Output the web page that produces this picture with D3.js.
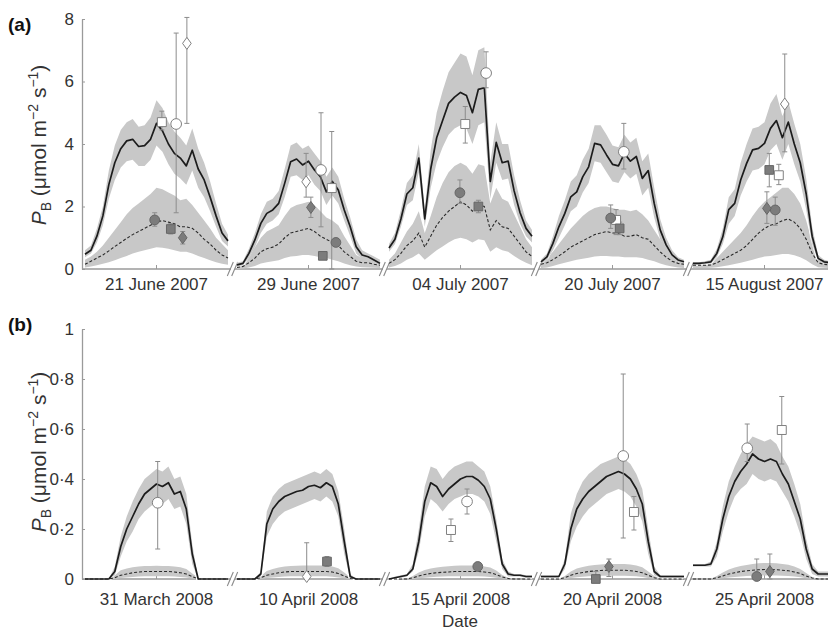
<!DOCTYPE html>
<html>
<head>
<meta charset="utf-8">
<script src="https://cdn.jsdelivr.net/npm/d3@7"></script>
<style>
  body { margin: 0; background: #fff; }
  svg { display: block; }
</style>
</head>
<body>
<svg id="chart" width="828" height="630"></svg>
<script>
// ---------------------------------------------------------------
// Modelled P_B (hourly, 0–24 h) for each sampled day, with the
// uncertainty envelopes, and measured values (value, low, high).
// ---------------------------------------------------------------

// Panel (a): summer 2007
const datesA = ["21 June 2007", "29 June 2007", "04 July 2007", "20 July 2007", "15 August 2007"];
const ticksA = [0, 2, 4, 6, 8];

const solidA = [
  [0.47,0.6,1.05,1.7,2.7,3.4,3.85,4.1,4.15,3.92,3.95,4.15,4.66,4.42,4.0,3.7,3.55,3.3,3.8,3.2,2.85,2.3,1.7,1.15,0.9],
  [0.13,0.18,0.5,0.93,1.46,1.78,1.89,2.1,2.74,3.43,3.52,3.33,3.45,3.17,2.95,2.47,2.8,2.53,1.89,1.35,0.71,0.45,0.39,0.29,0.18],
  [0.67,0.95,1.6,2.4,2.6,3.55,1.6,3.2,4.2,4.75,5.3,5.5,5.65,5.55,5.0,5.75,5.8,2.8,4.05,3.4,3.45,2.5,1.8,1.3,1.05],
  [0.23,0.39,0.82,1.35,1.78,2.31,2.47,2.95,3.27,4.02,3.97,3.65,3.35,3.3,3.7,3.45,3.6,2.9,3.15,2.1,1.25,0.77,0.45,0.29,0.23],
  [0.18,0.18,0.2,0.23,0.5,1.03,1.9,2.1,2.85,3.38,3.81,3.86,4.02,4.5,4.75,4.2,4.7,4.0,3.4,2.4,1.05,0.34,0.23,0.2,0.2]
];
const solidHiA = [
  [0.6,0.75,1.3,2.0,3.15,3.95,4.45,4.7,4.8,4.55,4.6,4.85,5.4,5.15,4.7,4.4,4.2,3.95,4.5,3.85,3.4,2.8,2.1,1.45,1.1],
  [0.2,0.25,0.65,1.15,1.75,2.15,2.25,2.5,3.2,3.95,4.05,3.85,3.95,3.7,3.45,2.95,3.25,2.95,2.25,1.65,0.95,0.6,0.5,0.4,0.3],
  [0.8,1.15,1.9,2.75,3.0,4.0,1.9,3.8,5.0,5.7,6.3,6.6,6.9,6.8,6.2,7.0,7.1,3.4,4.7,4.0,4.0,3.0,2.2,1.55,1.25],
  [0.3,0.5,1.05,1.7,2.2,2.8,3.0,3.5,3.85,4.6,4.6,4.3,3.95,3.9,4.3,4.05,4.2,3.45,3.7,2.6,1.6,1.0,0.6,0.38,0.3],
  [0.22,0.22,0.25,0.3,0.65,1.3,2.3,2.55,3.4,4.0,4.5,4.55,4.7,5.3,5.6,4.9,5.35,4.65,4.0,2.9,1.35,0.45,0.3,0.25,0.25]
];
const solidLoA = [
  [0.38,0.5,0.85,1.4,2.25,2.85,3.25,3.45,3.5,3.3,3.3,3.5,3.95,3.75,3.35,3.05,2.9,2.7,3.15,2.6,2.3,1.85,1.35,0.9,0.72],
  [0.08,0.12,0.35,0.7,1.15,1.45,1.55,1.75,2.3,2.95,3.0,2.85,3.0,2.7,2.5,2.05,2.35,2.1,1.55,1.05,0.5,0.32,0.28,0.2,0.1],
  [0.55,0.8,1.35,2.05,2.2,3.1,1.35,2.6,3.4,3.9,4.3,4.5,4.6,4.5,4.0,4.6,4.7,2.25,3.4,2.85,2.9,2.05,1.45,1.05,0.85],
  [0.15,0.3,0.6,1.0,1.4,1.85,2.0,2.45,2.75,3.45,3.4,3.1,2.8,2.75,3.1,2.9,3.05,2.35,2.6,1.65,0.95,0.55,0.32,0.2,0.15],
  [0.14,0.14,0.16,0.18,0.38,0.8,1.45,1.7,2.35,2.8,3.15,3.2,3.35,3.8,4.0,3.5,4.0,3.35,2.8,1.9,0.8,0.25,0.17,0.15,0.15]
];
const dashA = [
  [0.15,0.25,0.35,0.45,0.58,0.72,0.85,0.98,1.1,1.2,1.3,1.4,1.5,1.55,1.5,1.45,1.35,1.35,1.3,1.15,0.95,0.8,0.6,0.45,0.35],
  [0.05,0.08,0.2,0.35,0.55,0.65,0.7,0.8,1.0,1.15,1.2,1.25,1.3,1.2,1.05,0.95,0.85,0.75,0.55,0.4,0.25,0.2,0.2,0.15,0.12],
  [0.18,0.3,0.5,0.75,0.9,1.15,0.7,1.05,1.4,1.65,1.85,2.0,2.15,2.05,1.85,2.05,2.0,1.25,1.55,1.35,1.3,1.05,0.8,0.55,0.4],
  [0.15,0.2,0.3,0.42,0.55,0.7,0.8,0.9,1.0,1.1,1.15,1.2,1.15,1.15,1.05,1.05,1.1,1.0,0.95,0.75,0.55,0.38,0.25,0.18,0.15],
  [0.12,0.12,0.12,0.13,0.2,0.3,0.4,0.5,0.6,0.75,0.95,1.15,1.3,1.4,1.45,1.55,1.6,1.5,1.3,0.95,0.5,0.2,0.15,0.13,0.12]
];
const dashHiA = [
  [0.3,0.4,0.55,0.75,1.0,1.25,1.5,1.75,1.95,2.1,2.25,2.4,2.6,2.55,2.45,2.35,2.2,2.25,2.05,1.8,1.55,1.3,1.0,0.8,0.6],
  [0.1,0.15,0.4,0.7,1.0,1.2,1.3,1.4,1.7,1.95,2.05,2.1,2.15,2.05,1.85,1.65,1.55,1.4,1.05,0.75,0.45,0.35,0.3,0.25,0.2],
  [0.3,0.5,0.85,1.2,1.45,1.85,1.15,1.7,2.3,2.75,3.1,3.3,3.4,3.3,3.05,3.35,3.3,2.1,2.6,2.25,2.15,1.75,1.35,0.95,0.7],
  [0.25,0.35,0.55,0.8,1.05,1.3,1.5,1.7,1.85,1.95,2.0,2.0,1.95,1.9,1.9,1.85,1.9,1.75,1.55,1.25,0.95,0.65,0.42,0.3,0.25],
  [0.2,0.2,0.2,0.22,0.35,0.55,0.75,0.95,1.15,1.4,1.7,1.95,2.15,2.3,2.45,2.6,2.6,2.4,2.1,1.55,0.85,0.35,0.25,0.2,0.2]
];
const dashLoA = [
  [0.05,0.08,0.12,0.17,0.22,0.28,0.35,0.42,0.5,0.55,0.6,0.65,0.7,0.68,0.65,0.6,0.55,0.55,0.5,0.42,0.35,0.28,0.22,0.17,0.14],
  [0.0,0.02,0.05,0.1,0.18,0.22,0.25,0.28,0.35,0.4,0.42,0.45,0.45,0.42,0.38,0.35,0.3,0.25,0.18,0.12,0.08,0.06,0.05,0.04,0.03],
  [0.05,0.1,0.18,0.3,0.38,0.5,0.3,0.45,0.6,0.72,0.85,0.95,1.0,0.95,0.85,0.95,0.92,0.55,0.7,0.6,0.55,0.42,0.3,0.2,0.12],
  [0.03,0.05,0.1,0.15,0.2,0.25,0.3,0.33,0.36,0.4,0.42,0.42,0.4,0.4,0.38,0.38,0.38,0.35,0.3,0.25,0.18,0.12,0.08,0.05,0.03],
  [0.03,0.03,0.03,0.04,0.06,0.09,0.12,0.16,0.2,0.25,0.3,0.35,0.4,0.42,0.45,0.48,0.48,0.44,0.38,0.28,0.15,0.06,0.04,0.03,0.03]
];

// Measurements: [day index, hour, value, low, high]
const openSquaresA  = [[0,12.9,4.7,4.45,5.05],[1,15.9,2.59,0,4.4],[2,12.8,4.64,4.03,5.2],[3,12.6,1.57,1.1,1.9],[4,14.4,3.0,2.7,3.35]];
const openCirclesA  = [[0,15.3,4.64,1.8,7.55],[1,14.1,3.17,1.35,5.0],[2,16.3,6.27,5.8,6.95],[3,13.9,3.75,3.2,4.66]];
const openDiamondsA = [[0,17.1,7.22,4.66,8.05],[1,11.6,2.79,2.3,3.7],[4,15.4,5.28,3.75,6.88]];
const grayCirclesA  = [[0,11.7,1.57,1.37,1.8],[1,16.6,0.85,0.75,0.95],[2,11.9,2.44,2.1,2.85],[3,11.7,1.63,1.3,2.05],[4,13.8,1.89,1.4,2.3]];
const graySquaresA  = [[0,14.4,1.28,1.12,1.45],[1,14.4,0.42,0.42,0.42],[2,15.0,2.0,1.8,2.2],[3,13.2,1.3,1.1,1.5],[4,12.8,3.17,2.63,3.7]];
const grayDiamondsA = [[0,16.4,1.0,0.8,1.2],[1,12.4,1.97,1.65,2.3],[4,12.4,1.94,1.46,2.47]];

// Panel (b): spring 2008
const datesB = ["31 March 2008", "10 April 2008", "15 April 2008", "20 April 2008", "25 April 2008"];
const ticksB = [0, 0.2, 0.4, 0.6, 0.8, 1];

const solidB = [
  [0,0,0,0,0,0.03,0.13,0.2,0.25,0.3,0.34,0.36,0.38,0.37,0.385,0.34,0.35,0.28,0.1,0,0,0,0,0,0],
  [0,0,0,0,0.02,0.22,0.28,0.31,0.33,0.34,0.35,0.355,0.37,0.375,0.365,0.385,0.37,0.3,0.15,0.01,0,0,0,0,0],
  [0,0.005,0.01,0.015,0.04,0.15,0.31,0.385,0.37,0.33,0.36,0.38,0.4,0.41,0.41,0.395,0.37,0.32,0.2,0.06,0.02,0.015,0.015,0.01,0.01],
  [0.01,0.01,0.01,0.01,0.06,0.2,0.28,0.32,0.35,0.37,0.39,0.41,0.42,0.43,0.42,0.4,0.36,0.3,0.15,0.03,0.01,0.01,0.01,0.01,0.01],
  [0.055,0.055,0.055,0.06,0.12,0.24,0.33,0.39,0.43,0.46,0.5,0.48,0.47,0.48,0.47,0.42,0.38,0.31,0.24,0.12,0.04,0.02,0.02,0.02,0.02]
];
const solidHiB = [
  [0,0,0,0,0,0.05,0.17,0.25,0.31,0.36,0.4,0.42,0.44,0.43,0.45,0.4,0.41,0.34,0.14,0,0,0,0,0,0],
  [0,0,0,0,0.03,0.27,0.33,0.36,0.38,0.39,0.4,0.41,0.42,0.43,0.42,0.44,0.42,0.35,0.2,0.02,0,0,0,0,0],
  [0,0.01,0.015,0.02,0.06,0.2,0.37,0.45,0.44,0.4,0.43,0.45,0.46,0.47,0.47,0.45,0.43,0.37,0.24,0.08,0.03,0.02,0.02,0.015,0.015],
  [0.015,0.015,0.015,0.015,0.08,0.26,0.34,0.39,0.42,0.44,0.46,0.47,0.48,0.49,0.48,0.46,0.42,0.36,0.2,0.05,0.015,0.015,0.015,0.015,0.015],
  [0.06,0.06,0.06,0.07,0.15,0.29,0.39,0.45,0.5,0.54,0.57,0.56,0.55,0.56,0.54,0.49,0.45,0.38,0.3,0.16,0.06,0.03,0.03,0.03,0.03]
];
const solidLoB = [
  [0,0,0,0,0,0.015,0.09,0.15,0.19,0.24,0.27,0.29,0.31,0.3,0.32,0.28,0.29,0.22,0.06,0,0,0,0,0,0],
  [0,0,0,0,0.01,0.17,0.22,0.25,0.27,0.28,0.29,0.3,0.31,0.32,0.31,0.33,0.31,0.25,0.1,0,0,0,0,0,0],
  [0,0.005,0.005,0.01,0.03,0.11,0.25,0.32,0.3,0.27,0.3,0.32,0.33,0.34,0.34,0.33,0.31,0.26,0.15,0.04,0.01,0.01,0.01,0.005,0.005],
  [0.005,0.005,0.005,0.005,0.04,0.15,0.21,0.25,0.28,0.3,0.32,0.34,0.35,0.36,0.35,0.33,0.29,0.23,0.1,0.015,0.005,0.005,0.005,0.005,0.005],
  [0.05,0.05,0.05,0.05,0.09,0.19,0.27,0.33,0.36,0.38,0.42,0.4,0.39,0.4,0.39,0.35,0.31,0.25,0.18,0.08,0.02,0.01,0.01,0.01,0.01]
];
const dashB = [
  [0,0,0,0,0,0.005,0.015,0.02,0.025,0.028,0.03,0.03,0.03,0.03,0.03,0.028,0.025,0.02,0.01,0,0,0,0,0,0],
  [0,0,0,0,0.005,0.015,0.02,0.025,0.028,0.03,0.03,0.03,0.03,0.03,0.03,0.03,0.028,0.022,0.012,0.002,0,0,0,0,0],
  [0,0,0,0,0.005,0.012,0.018,0.022,0.025,0.027,0.028,0.03,0.03,0.03,0.03,0.03,0.028,0.025,0.018,0.008,0.002,0,0,0,0],
  [0,0,0,0,0.005,0.015,0.022,0.026,0.03,0.032,0.034,0.035,0.035,0.035,0.035,0.033,0.03,0.025,0.015,0.005,0,0,0,0,0],
  [0,0,0,0,0.005,0.012,0.02,0.025,0.03,0.033,0.035,0.037,0.038,0.038,0.037,0.035,0.033,0.028,0.022,0.012,0.004,0,0,0,0]
];
const dashHiB = [
  [0,0,0,0,0,0.015,0.035,0.042,0.047,0.05,0.052,0.052,0.053,0.052,0.052,0.05,0.047,0.04,0.022,0.005,0,0,0,0,0],
  [0,0,0,0,0.012,0.032,0.04,0.046,0.05,0.052,0.053,0.054,0.054,0.054,0.054,0.053,0.05,0.043,0.026,0.006,0,0,0,0,0],
  [0,0,0,0,0.012,0.026,0.036,0.042,0.046,0.049,0.051,0.053,0.054,0.054,0.054,0.053,0.05,0.046,0.034,0.016,0.005,0,0,0,0],
  [0,0,0,0,0.012,0.03,0.042,0.048,0.053,0.056,0.058,0.06,0.06,0.06,0.06,0.058,0.054,0.047,0.03,0.012,0.002,0,0,0,0],
  [0,0,0,0,0.012,0.026,0.038,0.046,0.052,0.056,0.06,0.063,0.064,0.064,0.063,0.06,0.057,0.05,0.04,0.024,0.008,0,0,0,0]
];
const dashLoB = [
  [0,0,0,0,0,0,0.004,0.006,0.008,0.01,0.011,0.011,0.011,0.011,0.011,0.01,0.008,0.006,0.002,0,0,0,0,0,0],
  [0,0,0,0,0,0.004,0.006,0.008,0.01,0.011,0.011,0.011,0.011,0.011,0.011,0.011,0.009,0.006,0.003,0,0,0,0,0,0],
  [0,0,0,0,0,0.003,0.005,0.007,0.009,0.01,0.011,0.011,0.011,0.011,0.011,0.011,0.01,0.008,0.005,0.002,0,0,0,0,0],
  [0,0,0,0,0,0.004,0.007,0.009,0.011,0.012,0.013,0.013,0.013,0.013,0.013,0.012,0.011,0.008,0.004,0.001,0,0,0,0,0],
  [0,0,0,0,0,0.003,0.006,0.008,0.01,0.012,0.013,0.014,0.014,0.014,0.014,0.013,0.012,0.01,0.007,0.003,0.001,0,0,0,0]
];

const openSquaresB  = [[2,10.4,0.196,0.15,0.24],[3,15.6,0.268,0.196,0.33],[4,14.9,0.596,0.46,0.73]];
const openCirclesB  = [[0,12.2,0.305,0.12,0.47],[2,13.1,0.31,0.26,0.36],[3,13.8,0.492,0.164,0.82],[4,9.1,0.523,0.47,0.62]];
const openDiamondsB = [[1,11.7,0.01,0,0.145]];
const grayCirclesB  = [[2,14.9,0.05,0.04,0.06],[4,10.7,0.01,0,0.08]];
const graySquaresB  = [[1,15.1,0.07,0.05,0.09],[3,9.2,0.0,0,0.03]];
const grayDiamondsB = [[3,11.4,0.05,0.01,0.08],[4,12.9,0.03,0,0.1]];

// ---------------------------------------------------------------
const FONT = "'Liberation Sans', Arial, Helvetica, sans-serif";
const svg = d3.select("#chart").style("font-family", FONT);

const AXIS_X = 82;
const SEG_W = 143;
const hours = d3.range(25);
// one time axis (0–24 h) per sampled day, separated by axis breaks
const xScales = d3.range(5).map(k =>
  d3.scaleLinear().domain([0, 24]).range([85 + 152 * k, 85 + 152 * k + SEG_W]));

// taller-than-wide diamond marker
const tallDiamond = {
  draw(ctx, size) {
    const h = Math.sqrt(size) * 0.75, w = h * 0.72;
    ctx.moveTo(0, -h); ctx.lineTo(w, 0); ctx.lineTo(0, h); ctx.lineTo(-w, 0); ctx.closePath();
  }
};
const markerStyles = {
  openSquare:  { type: d3.symbolSquare, size: 80, fill: "#fff",    stroke: "#808080" },
  openCircle:  { type: d3.symbolCircle, size: 90, fill: "#fff",    stroke: "#808080" },
  openDiamond: { type: tallDiamond,     size: 64, fill: "#fff",    stroke: "#808080" },
  grayCircle:  { type: d3.symbolCircle, size: 75, fill: "#7c7c7c", stroke: "#666" },
  graySquare:  { type: d3.symbolSquare, size: 75, fill: "#7c7c7c", stroke: "#666" },
  grayDiamond: { type: tallDiamond,     size: 64, fill: "#7c7c7c", stroke: "#666" }
};

function drawPanel(p) {
  const y = d3.scaleLinear().domain(p.domain).range(p.range);
  const y0 = y(0);
  const g = svg.append("g");

  // x axis pieces with break marks
  const axisG = g.append("g");
  xScales.forEach((x, k) => {
    const xa = k === 0 ? AXIS_X : x(0) - 2;
    axisG.append("line").attr("x1", xa).attr("x2", x(24) + 3)
      .attr("y1", y0).attr("y2", y0).attr("stroke", "#9a9a9a").attr("stroke-width", 1.3);
    axisG.append("line").attr("x1", x(12)).attr("x2", x(12))
      .attr("y1", y0).attr("y2", y0 - 4).attr("stroke", "#9a9a9a");
    if (k < 4) {
      const cx = x(24) + 4.5;
      [-2.2, 2.2].forEach(off => {
        axisG.append("line")
          .attr("x1", cx + off - 3).attr("y1", y0 + 7)
          .attr("x2", cx + off + 3).attr("y2", y0 - 7)
          .attr("stroke", "#8a8a8a").attr("stroke-width", 1.1);
      });
    }
  });

  const layers = ["dashBand", "halo", "solidBand", "dashLine", "solidLine", "err", "mark"]
    .reduce((o, n) => (o[n] = g.append("g"), o), {});

  xScales.forEach((x, k) => {
    const band = (hi, lo) => d3.area()
      .x(i => x(hours[i])).y0(i => y(lo[i])).y1(i => y(hi[i]));
    const line = vals => d3.line().x(i => x(hours[i])).y(i => y(vals[i]));
    const idx = hours.map((_, i) => i);

    layers.dashBand.append("path").attr("d", band(p.dashHi[k], p.dashLo[k])(idx))
      .attr("fill", "#c8c8c8");
    layers.halo.append("path").attr("d", line(p.solid[k])(idx))
      .attr("fill", "none").attr("stroke", "#fff").attr("stroke-width", 4.5)
      .attr("stroke-linejoin", "round");
    layers.solidBand.append("path").attr("d", band(p.solidHi[k], p.solidLo[k])(idx))
      .attr("fill", "#c8c8c8");
    layers.dashLine.append("path").attr("d", line(p.dash[k])(idx))
      .attr("fill", "none").attr("stroke", "#2a2a2a").attr("stroke-width", 1.1)
      .attr("stroke-dasharray", "3,2");
    layers.solidLine.append("path").attr("d", line(p.solid[k])(idx))
      .attr("fill", "none").attr("stroke", "#1c1c1c").attr("stroke-width", 1.7)
      .attr("stroke-linejoin", "round");

    svg.append("text").attr("x", x(12)).attr("y", p.labelY)
      .attr("text-anchor", "middle").attr("font-size", 17).attr("fill", "#333")
      .text(p.dates[k]);
  });

  // measurements with error bars
  p.points.forEach(([name, rows]) => {
    const st = markerStyles[name];
    rows.forEach(([k, h, v, lo, hi]) => {
      const cx = xScales[k](h);
      if (hi > lo) {
        const e = layers.err.append("g").attr("stroke", "#8c8c8c").attr("stroke-width", 1);
        e.append("line").attr("x1", cx).attr("x2", cx).attr("y1", y(lo)).attr("y2", y(hi));
        [lo, hi].forEach(t => e.append("line")
          .attr("x1", cx - 2.5).attr("x2", cx + 2.5).attr("y1", y(t)).attr("y2", y(t)));
      }
      layers.mark.append("path")
        .attr("d", d3.symbol(st.type, st.size)())
        .attr("transform", `translate(${cx},${y(v)})`)
        .attr("fill", st.fill).attr("stroke", st.stroke).attr("stroke-width", 1);
    });
  });

  // y axis
  const yAxis = d3.axisLeft(y).tickValues(p.ticks).tickFormat(p.fmt)
    .tickSizeInner(-3).tickSizeOuter(0).tickPadding(8);
  const ya = g.append("g").attr("transform", `translate(${AXIS_X},0)`).call(yAxis);
  ya.select(".domain").attr("stroke", "#9a9a9a").attr("stroke-width", 1.3);
  ya.selectAll(".tick line").attr("stroke", "#9a9a9a");
  ya.selectAll(".tick text").attr("font-size", 17).attr("fill", "#333")
    .attr("font-family", FONT);

  // y title: P_B (µmol m^-2 s^-1)
  const t = svg.append("text")
    .attr("transform", `translate(${p.titleX},${p.titleY}) rotate(-90)`)
    .attr("text-anchor", "middle").attr("font-size", 21).attr("fill", "#333");
  t.append("tspan").attr("font-style", "italic").text("P");
  t.append("tspan").attr("font-size", 14).attr("dy", 5).text("B");
  t.append("tspan").attr("dy", -5).text(" (\u03bcmol m");
  t.append("tspan").attr("font-size", 14).attr("dy", -8).text("\u22122");
  t.append("tspan").attr("dy", 8).text(" s");
  t.append("tspan").attr("font-size", 14).attr("dy", -8).text("\u22121");
  t.append("tspan").attr("dy", 8).text(")");

  svg.append("text").attr("x", 8).attr("y", p.tagY)
    .attr("font-size", 19).attr("font-weight", "bold").attr("fill", "#111")
    .text(p.tag);
}

drawPanel({
  tag: "(a)", tagY: 31, domain: [0, 8], range: [269, 19], ticks: ticksA,
  fmt: d3.format("d"), labelY: 290, titleX: 46, titleY: 145, dates: datesA,
  solid: solidA, solidHi: solidHiA, solidLo: solidLoA,
  dash: dashA, dashHi: dashHiA, dashLo: dashLoA,
  points: [["openSquare", openSquaresA], ["openCircle", openCirclesA], ["openDiamond", openDiamondsA],
           ["grayCircle", grayCirclesA], ["graySquare", graySquaresA], ["grayDiamond", grayDiamondsA]]
});

drawPanel({
  tag: "(b)", tagY: 331, domain: [0, 1], range: [579, 329], ticks: ticksB,
  fmt: d => (d === 0 || d === 1) ? String(d) : d3.format(".1f")(d).replace(".", "\u00b7"),
  labelY: 605, titleX: 46, titleY: 452, dates: datesB,
  solid: solidB, solidHi: solidHiB, solidLo: solidLoB,
  dash: dashB, dashHi: dashHiB, dashLo: dashLoB,
  points: [["openSquare", openSquaresB], ["openCircle", openCirclesB], ["openDiamond", openDiamondsB],
           ["grayCircle", grayCirclesB], ["graySquare", graySquaresB], ["grayDiamond", grayDiamondsB]]
});

svg.append("text").attr("x", 460).attr("y", 627).attr("text-anchor", "middle")
  .attr("font-size", 17).attr("fill", "#333").text("Date");
</script>
</body>
</html>
